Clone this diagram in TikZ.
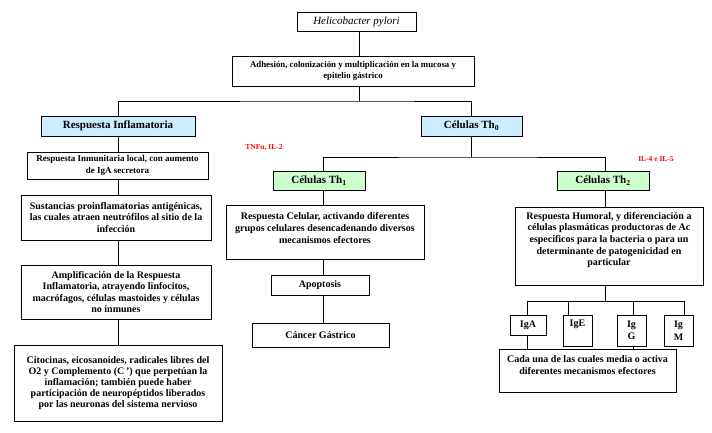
\documentclass[tikz,border=0pt]{standalone}
\usepackage{fontspec}
\setmainfont{Liberation Serif}
\definecolor{boxblue}{RGB}{204,236,255}
\definecolor{boxgreen}{RGB}{204,255,204}
\begin{document}
\begin{tikzpicture}[x=1pt,y=-1pt,
  box/.style={draw, line width=0.8pt, inner sep=0pt, align=center,
              font=\bfseries\fontsize{10}{11.3}\selectfont},
  head/.style={box, font=\bfseries\fontsize{11}{13}\selectfont},
  txt/.style={inner sep=0pt, align=center, font=\bfseries\fontsize{10}{12}\selectfont},
  redlab/.style={inner sep=0pt, text=red, font=\bfseries\fontsize{7.5}{8}\selectfont},
  conn/.style={line width=0.8pt}]
\path[use as bounding box] (0,0) rectangle (712,432);

% top
\node[box, font=\itshape\fontsize{11}{13}\selectfont, minimum width=119pt, minimum height=19pt] (hp) at (356.5,21.5) {Helicobacter pylori};
\node[box, font=\bfseries\fontsize{8.8}{11}\selectfont, minimum width=242pt, minimum height=30pt] (ad) at (353,71) {Adhesión, colonización y multiplicación en la mucosa y\\epitelio gástrico};

\node[head, fill=boxblue, minimum width=154pt, minimum height=20pt] (ri) at (118,126) {Respuesta Inflamatoria};
\node[head, fill=boxblue, minimum width=101pt, minimum height=20pt] (th0) at (471.5,126) {Células Th\textsubscript{0}};

% left column
\node[box, font=\bfseries\fontsize{9}{12}\selectfont, minimum width=181pt, minimum height=27pt] (inm) at (117.5,165.5) {Respuesta Inmunitaria local, con aumento\\de IgA secretora};
\node[box, minimum width=190pt, minimum height=45pt] (sus) at (116,217.5) {Sustancias proinflamatorias antigénicas,\\las cuales atraen neutrófilos al sitio de la\\infección};
\node[box, minimum width=190pt, minimum height=54pt] (amp) at (116,292) {Amplificación de la Respuesta\\Inflamatoria, atrayendo linfocitos,\\macrófagos, células mastoides y células\\no inmunes};
\node[box, font=\bfseries\fontsize{10}{10.8}\selectfont, minimum width=208pt, minimum height=76pt] (cit) at (118,383) {Citocinas, eicosanoides, radicales libres del\\O2 y Complemento (C\,') que perpetúan la\\inflamación; también puede haber\\participación de neuropéptidos liberados\\por las neuronas del sistema nervioso};

% middle column
\node[head, fill=boxgreen, minimum width=92pt, minimum height=19pt] (th1) at (319,180.5) {Células Th\textsubscript{1}};
\node[box, minimum width=198pt, minimum height=54pt] (cel) at (325,232) {};
\node[txt] at (325,228) {Respuesta Celular, activando diferentes\\grupos celulares desencadenando diversos\\mecanismos efectores};
\node[box, minimum width=98pt, minimum height=20pt] (apo) at (320,285) {Apoptosis};
\node[box, minimum width=137pt, minimum height=24pt] (can) at (320.5,335) {Cáncer Gástrico};

% right column
\node[head, fill=boxgreen, minimum width=92pt, minimum height=19pt] (th2) at (603,180.5) {Células Th\textsubscript{2}};
\node[box, minimum width=188pt, minimum height=78pt] (hum) at (609,246) {};
\node[txt, font=\bfseries\fontsize{10}{11.7}\selectfont] at (609,240) {Respuesta Humoral, y diferenciación a\\células plasmáticas productoras de Ac\\específicos para la bacteria o para un\\determinante de patogenicidad en\\particular};

\node[box, minimum width=36pt, minimum height=20pt] (iga) at (528,325) {IgA};
\node[box, minimum width=29pt, minimum height=31pt] (ige) at (577.5,330.5) {};
\node[txt] at (577.5,324) {IgE};
\node[box, font=\bfseries\fontsize{10}{12.5}\selectfont, minimum width=29pt, minimum height=31pt] (igg) at (631.5,330.5) {Ig\\G};
\node[box, font=\bfseries\fontsize{10}{12.5}\selectfont, minimum width=29pt, minimum height=31pt] (igm) at (678.5,330.5) {Ig\\M};
\node[box, fill=white, minimum width=177pt, minimum height=43pt] (cad) at (587.5,370.5) {};
\node[txt] at (587.5,365.5) {Cada una de las cuales media o activa\\diferentes mecanismos efectores};

% red labels
\node[redlab] (tnf) at (264,148) {TNFα, IL-2};
\node[redlab] (il4) at (656,159) {IL-4 e IL-5};

% connectors
\draw[conn] (hp.south -| 359,0) -- (ad.north -| 359,0);
\draw[conn] (ad.south -| 359,0) -- (359,101);
\draw[conn] (ri.north) |- (359,101) -| (th0.north);
\draw[conn] (ri.south) -- (inm.north -| ri.south);
\draw[conn] (inm.south -| ri.south) -- (sus.north -| ri.south);
\draw[conn] (sus.south -| ri.south) -- (amp.north -| ri.south);
\draw[conn] (amp.south -| ri.south) -- (cit.north -| ri.south);

\draw[conn] (th0.south) -- (th0.south |- 0,157);
\draw[conn] (th1.north -| 323,0) |- (th0.south |- 0,157) -| (th2.north -| 605,0);
\draw[conn] (th1.south -| 323,0) -- (cel.north -| 323,0);
\draw[conn] (cel.south -| 323,0) -- (apo.north -| 323,0);
\draw[conn] (apo.south -| 323,0) -- (can.north -| 323,0);

\draw[conn] (th2.south -| 605,0) -- (hum.north -| 605,0);
\draw[conn] (hum.south -| 605,0) -- (605,301);
\draw[conn] (iga.north -| 527,0) |- (684,301) -- (igm.north -| 684,0);
\draw[conn] (ige.north -| 568,0) -- (568,301);
\draw[conn] (igg.north -| 633,0) -- (633,301);
\draw[conn] (iga.south -| 527,0) -- (cad.north -| 527,0);
\draw[conn] (igg.south -| 633,0) -- (cad.north -| 633,0);
\end{tikzpicture}
\end{document}
